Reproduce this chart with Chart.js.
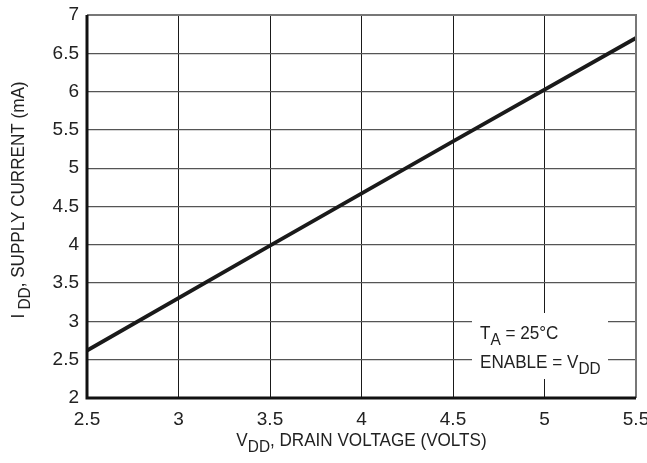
<!DOCTYPE html>
<html>
<head>
<meta charset="utf-8">
<script src="https://cdn.jsdelivr.net/npm/chart.js@4"></script>
<style>
  html, body { margin: 0; padding: 0; background: #fff; }
  #wrap { width: 647px; height: 463px; }
</style>
</head>
<body>
<div id="wrap"><canvas id="supplyChart" width="647" height="463"></canvas></div>
<script>
const voltages = [2.5, 3.5, 4.5, 5.5];
const currents = [2.62, 3.99, 5.35, 6.70];
const xTicks = [2.5, 3, 3.5, 4, 4.5, 5, 5.5];
const yTicks = [2, 2.5, 3, 3.5, 4, 4.5, 5, 5.5, 6, 6.5, 7];

const FONT = "'Liberation Sans Narrow', 'Liberation Sans', Arial, sans-serif";
const TEXT = '#222';
const SQUEEZE = 0.9;

// draws a run of [text, isSubscript] parts, squeezed horizontally, starting at x
function drawParts(ctx, parts, x, y, size) {
    ctx.save();
    ctx.translate(x, y);
    ctx.scale(SQUEEZE, 1);
    let cx = 0;
    parts.forEach(([txt, sub]) => {
        ctx.font = (sub ? size * 0.9 : size) + 'px ' + FONT;
        ctx.fillText(txt, cx, sub ? size * 0.3 : 0);
        cx += ctx.measureText(txt).width;
    });
    ctx.restore();
}
function partsWidth(ctx, parts, size) {
    ctx.save();
    const w = parts.reduce((acc, [txt, sub]) => {
        ctx.font = (sub ? size * 0.9 : size) + 'px ' + FONT;
        return acc + ctx.measureText(txt).width;
    }, 0);
    ctx.restore();
    return w * SQUEEZE;
}

const annotations = {
    id: 'annotations',
    beforeDatasetsDraw(chart) {
        const { ctx } = chart;
        // white note box that breaks the grid
        ctx.save();
        ctx.fillStyle = '#fff';
        ctx.fillRect(472, 313, 136, 66);
        ctx.restore();
    },
    afterDraw(chart) {
        const { ctx, chartArea: a } = chart;
        ctx.save();
        // frame
        ctx.strokeStyle = '#777';
        ctx.lineWidth = 2;
        ctx.beginPath();
        ctx.moveTo(a.left, a.top);
        ctx.lineTo(a.right, a.top);
        ctx.lineTo(a.right, a.bottom);
        ctx.stroke();
        ctx.strokeStyle = '#111';
        ctx.lineWidth = 3;
        ctx.beginPath();
        ctx.moveTo(a.left, a.top);
        ctx.lineTo(a.left, a.bottom);
        ctx.lineTo(a.right, a.bottom);
        ctx.stroke();

        ctx.fillStyle = TEXT;
        ctx.textBaseline = 'alphabetic';
        ctx.textAlign = 'left';
        // note text
        drawParts(ctx, [['T', false], ['A', true], [' = 25°C', false]], 480, 339, 19);
        drawParts(ctx, [['ENABLE = V', false], ['DD', true]], 480, 368, 19);

        // x title
        const xParts = [['V', false], ['DD', true], [', DRAIN VOLTAGE (VOLTS)', false]];
        const xw = partsWidth(ctx, xParts, 19);
        drawParts(ctx, xParts, (a.left + a.right) / 2 - xw / 2, 446, 19);

        // y title
        const yParts = [['I', false], [' DD', true], [', SUPPLY CURRENT (mA)', false]];
        const yw = partsWidth(ctx, yParts, 19);
        ctx.translate(24, 200);
        ctx.rotate(-Math.PI / 2);
        drawParts(ctx, yParts, -yw / 2, 0, 19);
        ctx.restore();
    }
};

new Chart(document.getElementById('supplyChart').getContext('2d'), {
    type: 'scatter',
    data: {
        datasets: [{
            data: voltages.map((v, i) => ({ x: v, y: currents[i] })),
            showLine: true,
            borderColor: '#1a1a1a',
            borderWidth: 3.8,
            pointRadius: 0,
            fill: false
        }]
    },
    options: {
        responsive: false,
        animation: false,
        events: [],
        layout: { padding: { top: 15, right: 11, left: 0, bottom: 0 } },
        plugins: { legend: { display: false }, tooltip: { enabled: false } },
        scales: {
            x: {
                type: 'linear',
                min: 2.5, max: 5.5,
                afterBuildTicks: s => { s.ticks = xTicks.map(v => ({ value: v })); },
                afterFit: s => { s.height = 65; s.paddingRight = 0; s.paddingLeft = 0; },
                grid: { color: '#1a1a1a', lineWidth: 1, drawTicks: false },
                border: { display: false },
                ticks: {
                    padding: 10,
                    color: TEXT,
                    font: { family: FONT, size: 19 },
                    maxRotation: 0,
                    callback: v => String(v)
                }
            },
            y: {
                type: 'linear',
                min: 2, max: 7,
                afterBuildTicks: s => { s.ticks = yTicks.map(v => ({ value: v })); },
                afterFit: s => { s.width = 87; s.paddingTop = 0; s.paddingBottom = 0; },
                grid: { color: '#555', lineWidth: 1.2, drawTicks: false },
                border: { display: false },
                ticks: {
                    padding: 8,
                    color: TEXT,
                    font: { family: FONT, size: 19 },
                    callback: v => String(v)
                }
            }
        }
    },
    plugins: [annotations]
});
</script>
</body>
</html>
